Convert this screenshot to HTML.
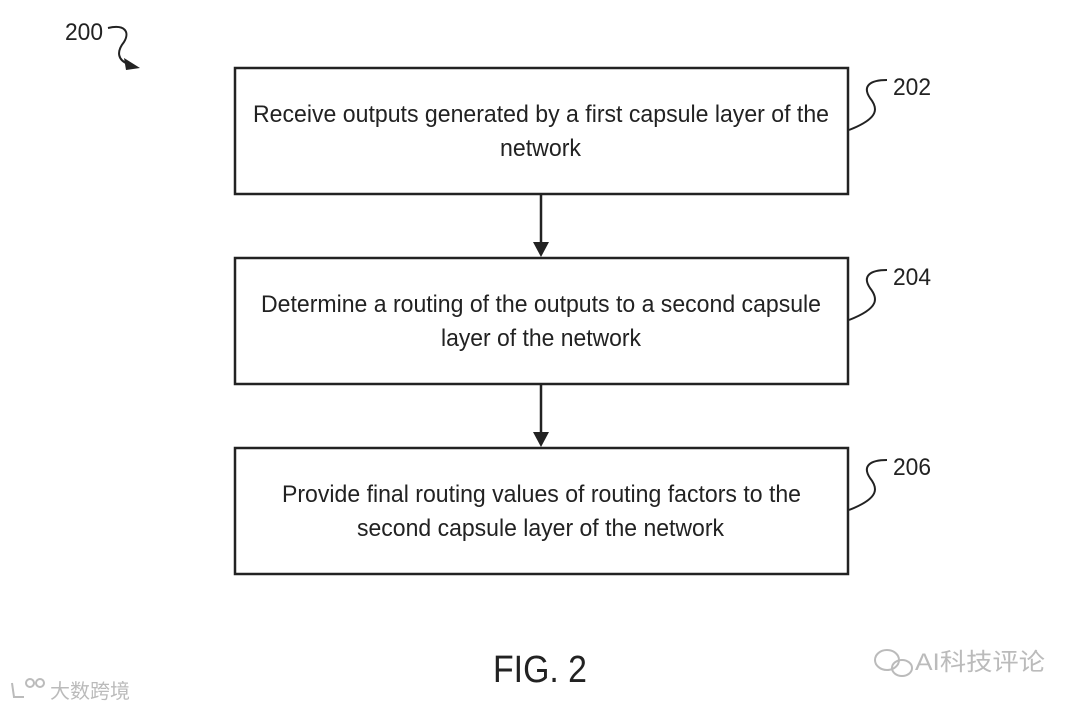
<!DOCTYPE html>
<html><head><meta charset="utf-8"><style>
html,body{margin:0;padding:0;background:#fff;width:1080px;height:708px;overflow:hidden}
text{font-family:"Liberation Sans",Arial,sans-serif;fill:#222}
</style></head><body>
<svg width="1080" height="708" viewBox="0 0 1080 708" xmlns="http://www.w3.org/2000/svg">
<g stroke="#222" stroke-width="2.5" fill="none">
<rect x="235" y="68" width="613" height="126"/>
<rect x="235" y="258" width="613" height="126"/>
<rect x="235" y="448" width="613" height="126"/>
<line x1="541" y1="194" x2="541" y2="250"/>
<line x1="541" y1="384" x2="541" y2="440"/>
</g>
<g fill="#222">
<path d="M533,242 L549,242 L541,257 Z"/>
<path d="M533,432 L549,432 L541,447 Z"/>
</g>
<g stroke="#222" stroke-width="2" fill="none">
<path d="M849,130 C880,118 878,108 870,98 C862,86 870,80 887,80"/>
<path d="M849,320 C880,308 878,298 870,288 C862,276 870,270 887,270"/>
<path d="M849,510 C880,498 878,488 870,478 C862,466 870,460 887,460"/>
<path d="M108,28 C125,24 130,32 124,42 C116,52 118,60 128,64"/>
</g>
<path d="M124,58 L140,68 L126,70 Z" fill="#222"/>
<g font-size="24">
<text x="253" y="122" textLength="576" lengthAdjust="spacingAndGlyphs">Receive outputs generated by a first capsule layer of the</text>
<text x="500" y="156" textLength="81" lengthAdjust="spacingAndGlyphs">network</text>
<text x="261" y="312" textLength="560" lengthAdjust="spacingAndGlyphs">Determine a routing of the outputs to a second capsule</text>
<text x="441" y="346" textLength="200" lengthAdjust="spacingAndGlyphs">layer of the network</text>
<text x="282" y="502" textLength="519" lengthAdjust="spacingAndGlyphs">Provide final routing values of routing factors to the</text>
<text x="357" y="536" textLength="367" lengthAdjust="spacingAndGlyphs">second capsule layer of the network</text>
<text x="893" y="95" textLength="38" lengthAdjust="spacingAndGlyphs">202</text>
<text x="893" y="285" textLength="38" lengthAdjust="spacingAndGlyphs">204</text>
<text x="893" y="475" textLength="38" lengthAdjust="spacingAndGlyphs">206</text>
<text x="65" y="40" textLength="38" lengthAdjust="spacingAndGlyphs">200</text>
</g>
<text x="493" y="682" font-size="38" textLength="94" lengthAdjust="spacingAndGlyphs">FIG. 2</text>
<text x="915" y="670" font-size="24" textLength="130" lengthAdjust="spacingAndGlyphs" style="fill:#bbb;font-family:'Liberation Sans','Noto Sans CJK SC',sans-serif">AI科技评论</text>
<text x="50" y="698" font-size="20" style="fill:#bbb;font-family:'Liberation Sans','Noto Sans CJK SC',sans-serif">大数跨境</text>
<g stroke="#bbb" stroke-width="2" fill="none">
<ellipse cx="887" cy="660" rx="12" ry="10"/><ellipse cx="902" cy="668" rx="10" ry="8"/>
<path d="M12,683 L14,697 L24,697"/><circle cx="30" cy="683" r="4"/><circle cx="40" cy="683" r="4"/>
</g>
</svg>
</body></html>
